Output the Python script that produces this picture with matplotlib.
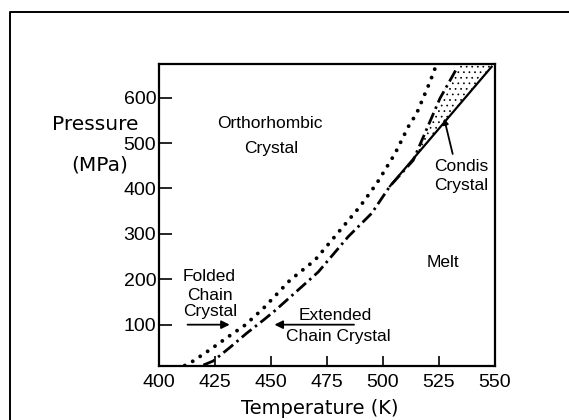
import numpy as np
import matplotlib
matplotlib.use("Agg")
import matplotlib.pyplot as plt
from matplotlib.lines import Line2D

plt.rcParams['font.family'] = ['Liberation Sans', 'DejaVu Sans']
plt.rcParams['hatch.linewidth'] = 0.5

# folded chain crystal melting (dotted)
folded_T = [411.5, 415.3, 422.8, 430.2, 438.4, 446.6, 458.5, 469.6, 477.8, 489.7, 497.2, 505.4, 511.3, 515.0, 521.0, 523.2]
folded_P = [10, 20, 45, 71, 99, 136, 198, 242, 290, 360, 411, 477, 536, 565, 635, 664]

# extended chain crystal melting (dash-dot)
ext_T = [419.8, 424.2, 431.7, 439.1, 446.6, 451.8, 471.1, 484.5, 494.9, 503.1, 513.5, 525.4, 532.9]
ext_P = [11, 20, 50, 81, 110, 131, 216, 294, 345, 405, 462, 598, 664]

# condis crystal / melt boundary (solid)
condis_T = [503.1, 548.5]
condis_P = [405, 668]

xticks = [400, 425, 450, 475, 500, 525, 550]
yticks = [100, 200, 300, 400, 500, 600]

fig = plt.figure(figsize=(5.69, 4.20), dpi=100)
ax = fig.add_axes([159/569, 1 - 366/420, 336/569, 302/420])

ax.plot(folded_T, folded_P, color="black", lw=2.8, linestyle=(0, (0.01, 2.3)),
        dash_capstyle="round", solid_capstyle="round")
ax.plot(ext_T, ext_P, color="black", lw=2.0, linestyle=(0, (4.5, 1.6, 0.9, 1.6)))
ax.plot(condis_T, condis_P, color="black", lw=1.6)

# stippled condis region between dash-dot and solid line
P_fill = np.linspace(405, 680, 60)
left = np.interp(P_fill, ext_P, ext_T)
left = np.where(P_fill > ext_P[-1], ext_T[-1] + (P_fill - ext_P[-1]) * 0.11, left)
right = condis_T[0] + (P_fill - condis_P[0]) * (condis_T[1] - condis_T[0]) / (condis_P[1] - condis_P[0])
ax.fill_betweenx(P_fill, left, right, facecolor="none", edgecolor="black",
                 hatch="...", linewidth=0)

ax.set_xlim(400, 550)
ax.set_ylim(9, 674)
ax.set_xticks(xticks)
ax.set_yticks(yticks)
ax.tick_params(axis="x", direction="in", length=7, width=1.2, labelsize=14, pad=6)
ax.tick_params(axis="y", direction="in", length=9, width=1.2, labelsize=14, pad=2)
for s in ax.spines.values():
    s.set_linewidth(1.6)

# region labels
ax.text(449.5, 544, "Orthorhombic", ha="center", va="center", fontsize=12.5)
ax.text(450.3, 489, "Crystal", ha="center", va="center", fontsize=12.5)
ax.text(526.8, 238, "Melt", ha="center", va="center", fontsize=12.5)
ax.text(535.1, 448, "Condis", ha="center", va="center", fontsize=12.5)
ax.text(535.1, 407, "Crystal", ha="center", va="center", fontsize=12.5)
ax.text(422.3, 205, "Folded", ha="center", va="center", fontsize=12.5)
ax.text(422.8, 165, "Chain", ha="center", va="center", fontsize=12.5)
ax.text(422.8, 128, "Crystal", ha="center", va="center", fontsize=12.5)
ax.text(478.6, 121, "Extended", ha="center", va="center", fontsize=12.5)
ax.text(479.9, 73, "Chain Crystal", ha="center", va="center", fontsize=12.5)

ax.annotate("", xy=(432.8, 100), xytext=(411.5, 100),
            arrowprops=dict(arrowstyle="-|>", color="black", lw=1.3, mutation_scale=12))
ax.annotate("", xy=(450.3, 100), xytext=(488.3, 100),
            arrowprops=dict(arrowstyle="-|>", color="black", lw=1.3, mutation_scale=12))
ax.annotate("", xy=(527.0, 560), xytext=(531.4, 470),
            arrowprops=dict(arrowstyle="-|>", color="black", lw=1.3, mutation_scale=8))

# axis labels
fig.text(95/569, 1 - 124/420, "Pressure", ha="center", va="center", fontsize=14.5,
         family="DejaVu Sans")
fig.text(100/569, 1 - 165/420, "(MPa)", ha="center", va="center", fontsize=14.5,
         family="DejaVu Sans")
fig.text(320/569, 1 - 409/420, "Temperature (K)", ha="center", va="center", fontsize=14,
         family="DejaVu Sans")

# outer frame of the figure
fig.add_artist(Line2D([10/569, 10/569, 1.0], [0.0, 1 - 12/420, 1 - 12/420],
                      transform=fig.transFigure, color="black", lw=1.4))

fig.savefig("out.png", dpi=100)
